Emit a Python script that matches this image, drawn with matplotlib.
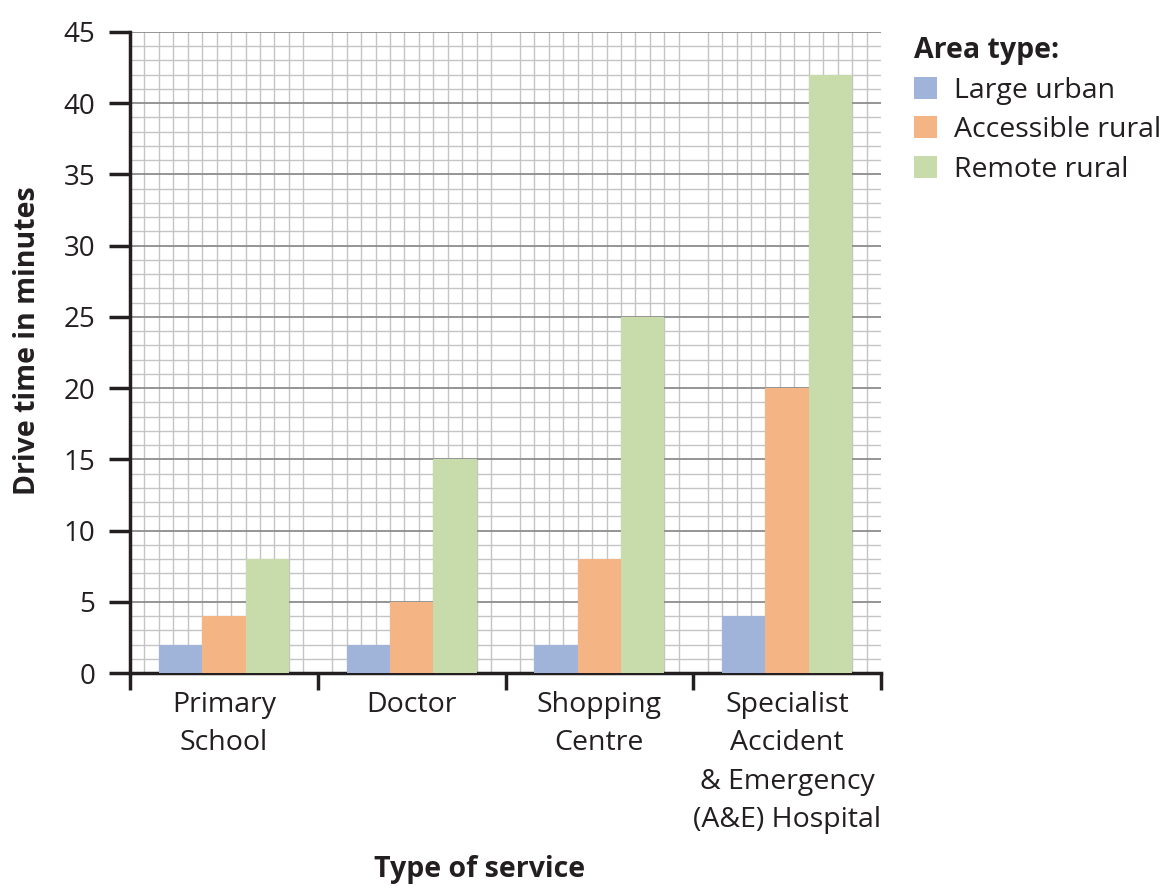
import matplotlib
matplotlib.use("Agg")
import matplotlib.pyplot as plt
import matplotlib.transforms as mtransforms
from matplotlib.patches import Patch
import numpy as np

categories = ["Primary\nSchool", "Doctor", "Shopping\nCentre",
              "Specialist\nAccident\n& Emergency\n(A&E) Hospital"]
series_names = ["Large urban", "Accessible rural", "Remote rural"]
large_urban = [2, 2, 2, 4]
accessible_rural = [4, 5, 8, 20]
remote_rural = [8, 15, 25, 42]
y_ticks = [0, 5, 10, 15, 20, 25, 30, 35, 40, 45]

colors = ["#a0b4da", "#f4b483", "#c7dbab"]
values = [large_urban, accessible_rural, remote_rural]
TXT = '#231f20'

plt.rcParams['font.family'] = ['Open Sans', 'DejaVu Sans']

fig = plt.figure(figsize=(11.7, 8.9), dpi=100)
ax = fig.add_axes([130/1170, 1 - 673/890, (881-130)/1170, (673-32)/890])

n = len(categories)
x = np.arange(n)
w = 3/13
for k, (vals, c, name) in enumerate(zip(values, colors, series_names)):
    ax.bar(x + (k-1)*w, vals, width=w, color=c, label=name, zorder=3, linewidth=0)

ax.set_xlim(-0.5, n - 0.5)
ax.set_ylim(0, 45)

ax.set_yticks(y_ticks)
ax.set_yticks(np.arange(0, 46, 1), minor=True)
ax.tick_params(axis='y', which='major', length=15, width=2.5, direction='out',
               labelsize=20, pad=10, color=TXT, labelcolor=TXT)
ax.tick_params(axis='y', which='minor', length=0)

ax.set_xticks(np.arange(-0.5, n, 1.0))
ax.set_xticklabels([])
ax.set_xticks(np.arange(-0.5, n - 0.5 + 1e-9, 1/13), minor=True)
ax.tick_params(axis='x', which='major', length=12, width=2.5, direction='out',
               color=TXT)
ax.tick_params(axis='x', which='minor', length=0)

ax.grid(which='minor', axis='both', color='#c4c4c4', linewidth=1.0, zorder=0)
ax.grid(which='major', axis='y', color='#8c8c8c', linewidth=1.3, zorder=1)
ax.set_axisbelow(True)

for s in ['top', 'right']:
    ax.spines[s].set_visible(False)
for s in ['left', 'bottom']:
    ax.spines[s].set_linewidth(2.5)
    ax.spines[s].set_color(TXT)

trans = mtransforms.blended_transform_factory(ax.transData, ax.transAxes)
for i, lab in enumerate(categories):
    ax.text(i, -0.028, lab, transform=trans, ha='center', va='top',
            fontsize=20.5, linespacing=1.5, color=TXT)

fig.text(28/1170, 1 - 341/890, "Drive time in minutes", rotation=90,
         ha='center', va='center', fontsize=20.5, fontweight='bold', color=TXT)
fig.text(480/1170, 1 - 870/890, "Type of service", ha='center', va='center',
         fontsize=20.5, fontweight='bold', color=TXT)

handles = [Patch(facecolor=c, edgecolor='none') for c in colors]
leg = fig.legend(handles, series_names, title="Area type:", loc='upper left',
                 bbox_to_anchor=(903/1170, 1 - 25/890), frameon=False,
                 fontsize=20.5, title_fontproperties={'weight': 'bold', 'size': 20.5},
                 handlelength=0.8, handleheight=0.8, handletextpad=0.6,
                 labelspacing=0.4, borderaxespad=0, labelcolor=TXT)
leg.get_title().set_color(TXT)
leg._legend_box.align = "left"

fig.savefig("out.png", dpi=100)
